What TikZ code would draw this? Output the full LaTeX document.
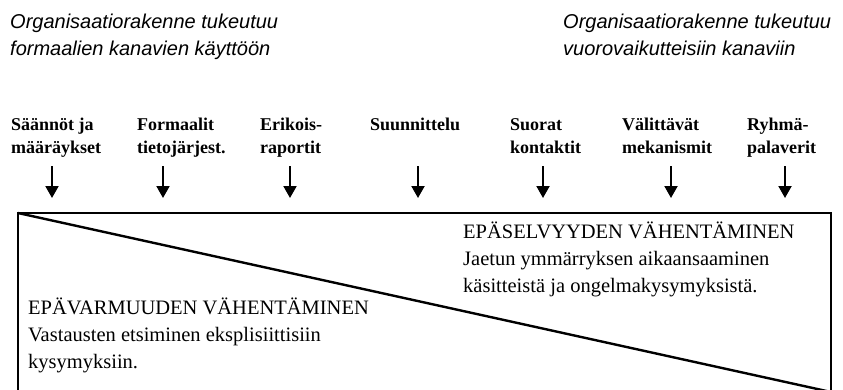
\documentclass[tikz,border=0pt]{standalone}
\usepackage{fontspec}
\setmainfont{Liberation Serif}
\newfontfamily\headfont{Liberation Sans}
\usepackage{tikz}
\usetikzlibrary{arrows.meta}

\begin{document}
\begin{tikzpicture}[
		x=1pt, y=-1pt,
		every node/.style={inner sep=0pt, align=left, anchor=base west},
		head/.style={font=\headfont\itshape\fontsize{20}{27}\selectfont},
		channel/.style={font=\bfseries\fontsize{18}{23}\selectfont},
		boxtext/.style={font=\fontsize{20.5}{26.7}\selectfont},
		down/.style={-{Triangle[width=13pt,length=12pt]}, line width=2pt}
	]
  \useasboundingbox (0,0) rectangle (843,389);
  % node positions are the baselines of the last lines
  \node (formal_head) [head] at (10,55) {Organisaatiorakenne tukeutuu\\formaalien kanavien käyttöön};
  \node (inter_head) [head] at (563,55) {Organisaatiorakenne tukeutuu\\vuorovaikutteisiin kanaviin};
  \node (rules) [channel] at (11,153) {Säännöt ja\\määräykset};
  \node (infosys) [channel] at (137,153) {Formaalit\\tietojärjest.};
  \node (reports) [channel] at (260,153) {Erikois-\\raportit};
  \node (planning) [channel] at (370,130) {Suunnittelu};
  \node (contacts) [channel] at (510,153) {Suorat\\kontaktit};
  \node (mediators) [channel] at (622,153) {Välittävät\\mekanismit};
  \node (meetings) [channel] at (747,153) {Ryhmä-\\palaverit};
  \coordinate (rules_a) at (52,166);
  \coordinate (rules_b) at (52,198);
  \coordinate (infosys_a) at (163,166);
  \coordinate (infosys_b) at (163,198);
  \coordinate (reports_a) at (290,166);
  \coordinate (reports_b) at (290,198);
  \coordinate (planning_a) at (418,166);
  \coordinate (planning_b) at (418,198);
  \coordinate (contacts_a) at (543,166);
  \coordinate (contacts_b) at (543,198);
  \coordinate (mediators_a) at (671,166);
  \coordinate (mediators_b) at (671,198);
  \coordinate (meetings_a) at (785,166);
  \coordinate (meetings_b) at (785,198);
  \draw[down] (rules_a) -- (rules_b);
  \draw[down] (infosys_a) -- (infosys_b);
  \draw[down] (reports_a) -- (reports_b);
  \draw[down] (planning_a) -- (planning_b);
  \draw[down] (contacts_a) -- (contacts_b);
  \draw[down] (mediators_a) -- (mediators_b);
  \draw[down] (meetings_a) -- (meetings_b);
  % box, open at the bottom
  \coordinate (box_tl) at (18,213);
  \coordinate (box_tr) at (831,213);
  \coordinate (box_bl) at (18,392);
  \coordinate (box_br) at (831,392);
  \draw[line width=2pt, line join=miter] (box_bl) -- (box_tl) -- (box_tr) -- (box_br);
  \draw[line width=2.4pt] (box_tl) -- (box_br);
  \node (ambiguity) [boxtext] at (463,292) {EPÄSELVYYDEN VÄHENTÄMINEN\\Jaetun ymmärryksen aikaansaaminen\\käsitteistä ja ongelmakysymyksistä.};
  \node (uncertainty) [boxtext] at (28,368) {EPÄVARMUUDEN VÄHENTÄMINEN\\Vastausten etsiminen eksplisiittisiin\\kysymyksiin.};
\end{tikzpicture}
\end{document}
